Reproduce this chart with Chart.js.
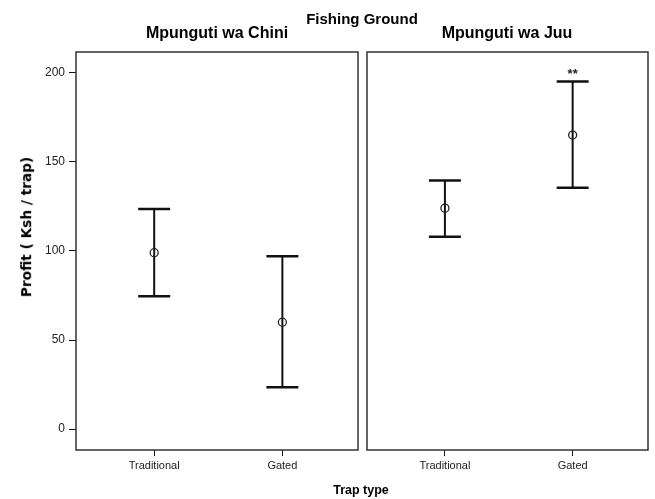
<!DOCTYPE html>
<html>
<head>
<meta charset="utf-8">
<script src="https://cdn.jsdelivr.net/npm/chart.js@4/dist/chart.umd.min.js"></script>
<style>
  html, body { margin: 0; padding: 0; background: #fff; }
  #wrap { position: relative; width: 655px; height: 499px; overflow: hidden; background: #fff; }
  canvas { position: absolute; top: 0; }
  .lbl { position: absolute; white-space: nowrap; color: #000; font-weight: bold;
         font-family: "Liberation Sans", Arial, sans-serif;
         transform: translate(-50%, -50%); line-height: 1; }
  #ytitle { font-family: "DejaVu Sans", Verdana, sans-serif; transform: translate(-50%, -50%) rotate(-90deg); }
</style>
</head>
<body>
<div id="wrap">
  <canvas id="panelChini" width="362" height="499" style="left:0"></canvas>
  <canvas id="panelJuu" width="293" height="499" style="left:362px"></canvas>
  <div class="lbl" id="mainTitle" style="left:362px; top:18px; font-size:15px;"></div>
  <div class="lbl" id="subChini" style="left:217px; top:33px; font-size:16px;"></div>
  <div class="lbl" id="subJuu" style="left:507px; top:33px; font-size:16px;"></div>
  <div class="lbl" id="ytitle" style="left:27px; top:227px; font-size:13.7px;"></div>
  <div class="lbl" id="xtitle" style="left:361px; top:490px; font-size:12.5px;"></div>
</div>
<script>
// Mean profit per trap with 95% confidence limits, by fishing ground and trap type
const mainTitle = 'Fishing Ground';
const groundNames = ['Mpunguti wa Chini', 'Mpunguti wa Juu'];
const trapTypes = ['Traditional', 'Gated'];
const yAxisTitle = 'Profit ( Ksh / trap)';
const xAxisTitle = 'Trap type';
const yTicks = [0, 50, 100, 150, 200];

const meanChini  = [99, 60];
const lowerChini = [74.5, 23.5];
const upperChini = [123.5, 97];
const marksChini = ['', ''];

const meanJuu  = [124, 165];
const lowerJuu = [108, 135.5];
const upperJuu = [139.5, 195];
const marksJuu = ['', '**'];

document.getElementById('mainTitle').textContent = mainTitle;
document.getElementById('subChini').textContent = groundNames[0];
document.getElementById('subJuu').textContent = groundNames[1];
document.getElementById('ytitle').textContent = yAxisTitle;
document.getElementById('xtitle').textContent = xAxisTitle;

const INK = '#111';
const tickFont = { family: '"Liberation Sans", Arial, sans-serif', size: 11 };

// frame around each panel's plotting area
const frame = {
  id: 'frame',
  afterDraw(chart) {
    const a = chart.chartArea, ctx = chart.ctx;
    ctx.save();
    ctx.strokeStyle = '#333';
    ctx.lineWidth = 1.5;
    ctx.strokeRect(a.left, a.top, a.right - a.left, a.bottom - a.top);
    ctx.restore();
  }
};

// significance stars above the upper confidence limit
const stars = {
  id: 'stars',
  afterDatasetsDraw(chart, args, opts) {
    const ctx = chart.ctx, xs = chart.scales.x, ys = chart.scales.y;
    ctx.save();
    ctx.fillStyle = '#222';
    ctx.font = 'bold 13px "Liberation Sans", Arial, sans-serif';
    ctx.textAlign = 'center';
    ctx.textBaseline = 'middle';
    opts.marks.forEach((m, i) => {
      if (!m) return;
      ctx.fillText(m, xs.getPixelForValue(i), ys.getPixelForValue(opts.upper[i]) - 7);
    });
    ctx.restore();
  }
};

function makePanel(id, means, lower, upper, marks, showY, padding) {
  const pts = arr => arr.map((v, i) => ({ x: i, y: v }));
  const whiskers = means.map((_, i) => ({
    data: [{ x: i, y: lower[i] }, { x: i, y: upper[i] }],
    showLine: true, borderColor: INK, borderWidth: 2, pointRadius: 0
  }));
  const capStyle = { showLine: false, pointStyle: 'line', pointRadius: 16,
                     pointBorderWidth: 2.5, borderColor: INK, pointBorderColor: INK };
  const datasets = [
    { data: pts(means), showLine: false, pointStyle: 'circle', pointRadius: 4,
      pointBorderWidth: 1.3, pointBorderColor: '#222', pointBackgroundColor: 'rgba(0,0,0,0)' },
    Object.assign({ data: pts(upper) }, capStyle),
    Object.assign({ data: pts(lower) }, capStyle),
    ...whiskers
  ];
  const yScale = {
    display: showY,
    min: -11.7, max: 211.6,
    afterBuildTicks: s => { s.ticks = yTicks.map(v => ({ value: v })); },
    ticks: { color: '#222', font: { family: '"Liberation Sans", Arial, sans-serif', size: 12 }, padding: 4 },
    grid: { drawOnChartArea: false, drawTicks: true, tickLength: 7, color: INK },
    border: { display: false }
  };
  if (showY) yScale.afterFit = s => { s.width = 76; };
  return new Chart(document.getElementById(id), {
    type: 'scatter',
    data: { datasets },
    plugins: [frame, stars],
    options: {
      responsive: false,
      animation: false,
      events: [],
      layout: { padding, autoPadding: false },
      plugins: { legend: { display: false }, tooltip: { enabled: false }, stars: { marks, upper } },
      scales: {
        x: {
          type: 'linear', min: -0.61, max: 1.59,
          afterBuildTicks: s => { s.ticks = trapTypes.map((_, i) => ({ value: i })); },
          afterFit: s => { s.height = 49; },
          ticks: { callback: v => trapTypes[v], color: '#222', font: tickFont, padding: 3, maxRotation: 0 },
          grid: { drawOnChartArea: false, drawTicks: true, tickLength: 6, color: INK },
          border: { display: false }
        },
        y: yScale
      }
    }
  });
}

makePanel('panelChini', meanChini, lowerChini, upperChini, marksChini, true,
          { top: 52, right: 4, left: 0, bottom: 0 });
makePanel('panelJuu', meanJuu, lowerJuu, upperJuu, marksJuu, false,
          { top: 52, right: 7, left: 5, bottom: 0 });
</script>
</body>
</html>
